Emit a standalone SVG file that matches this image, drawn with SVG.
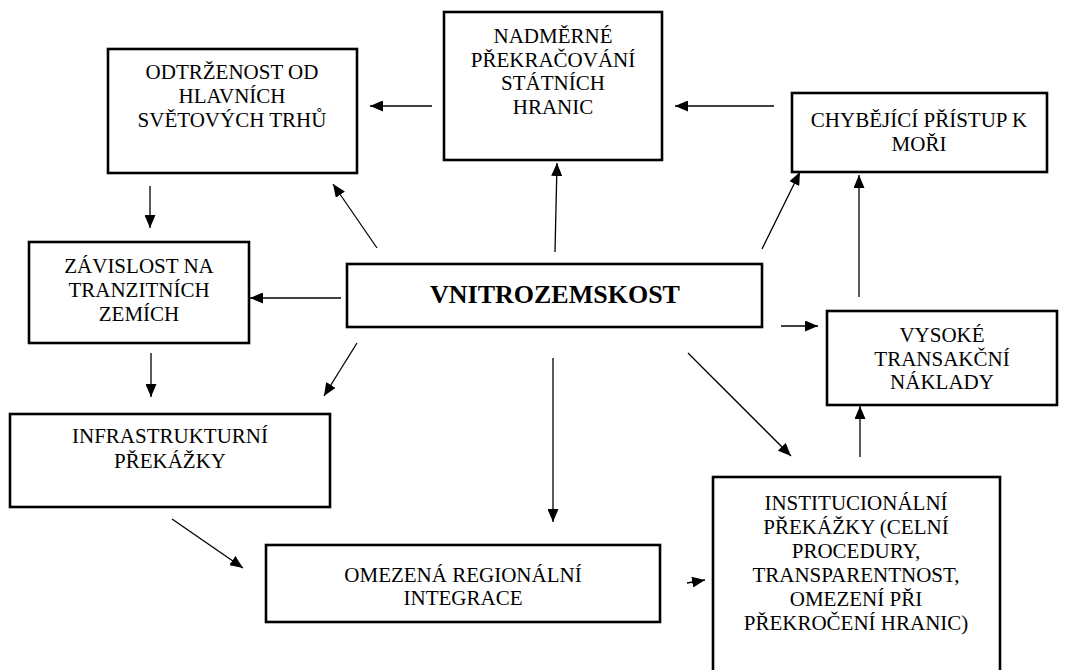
<svg xmlns="http://www.w3.org/2000/svg" width="1074" height="670" viewBox="0 0 1074 670">
<defs>
<marker id="ah" viewBox="0 0 13 11" refX="13" refY="5.5" markerWidth="13" markerHeight="11" markerUnits="userSpaceOnUse" orient="auto">
<path d="M0,0 L13,5.5 L0,11 z" fill="#000"/>
</marker>
<style>
.box{fill:#fff;stroke:#000;stroke-width:2.6}
.t{font-family:"Liberation Serif","Times New Roman",serif;font-size:21px;fill:#000;text-anchor:middle}
.b{font-weight:bold;font-size:26px}
.c{stroke:#000;stroke-width:1.3;fill:none;marker-end:url(#ah)}
</style>
</defs>
<rect width="1074" height="670" fill="#fff"/>
<g id="connectors">
<line class="c" x1="432" y1="106" x2="370" y2="106"/>
<line class="c" x1="774" y1="106" x2="675" y2="106"/>
<line class="c" x1="555" y1="252" x2="557" y2="163"/>
<line class="c" x1="377" y1="248" x2="333" y2="184"/>
<line class="c" x1="762" y1="249" x2="800" y2="172"/>
<line class="c" x1="859" y1="297" x2="859" y2="175"/>
<line class="c" x1="150" y1="186" x2="150" y2="228"/>
<line class="c" x1="341" y1="298" x2="250" y2="298"/>
<line class="c" x1="151" y1="353" x2="151" y2="397"/>
<line class="c" x1="357" y1="343" x2="324" y2="396"/>
<line class="c" x1="781" y1="326" x2="818" y2="326"/>
<line class="c" x1="688" y1="353" x2="791" y2="456"/>
<line class="c" x1="860" y1="457" x2="860" y2="406"/>
<line class="c" x1="553" y1="358" x2="553" y2="522"/>
<line class="c" x1="172" y1="519" x2="243" y2="568"/>
<line class="c" x1="687" y1="583" x2="705" y2="580"/>
</g>
<g id="odtrzenost">
<rect class="box" x="108" y="49" width="249" height="124"/>
<text class="t" x="232" y="79">ODTRŽENOST OD</text>
<text class="t" x="232" y="103">HLAVNÍCH</text>
<text class="t" x="232" y="127">SVĚTOVÝCH TRHŮ</text>
</g>
<g id="nadmerne">
<rect class="box" x="444" y="12" width="218" height="148"/>
<text class="t" x="553" y="43">NADMĚRNÉ</text>
<text class="t" x="553" y="67">PŘEKRAČOVÁNÍ</text>
<text class="t" x="553" y="90">STÁTNÍCH</text>
<text class="t" x="553" y="114">HRANIC</text>
</g>
<g id="chybejici">
<rect class="box" x="792" y="93" width="255" height="79"/>
<text class="t" x="919" y="127">CHYBĚJÍCÍ PŘÍSTUP K</text>
<text class="t" x="919" y="151">MOŘI</text>
</g>
<g id="zavislost">
<rect class="box" x="29" y="242" width="220" height="101"/>
<text class="t" x="139" y="273">ZÁVISLOST NA</text>
<text class="t" x="139" y="297">TRANZITNÍCH</text>
<text class="t" x="139" y="321">ZEMÍCH</text>
</g>
<g id="vnitrozemskost">
<rect class="box" x="347" y="264" width="415" height="63"/>
<text class="t b" x="555" y="303">VNITROZEMSKOST</text>
</g>
<g id="vysoke">
<rect class="box" x="827" y="311" width="230" height="94"/>
<text class="t" x="942" y="342">VYSOKÉ</text>
<text class="t" x="942" y="366">TRANSAKČNÍ</text>
<text class="t" x="942" y="389">NÁKLADY</text>
</g>
<g id="infrastrukturni">
<rect class="box" x="10" y="414" width="320" height="93"/>
<text class="t" x="170" y="443">INFRASTRUKTURNÍ</text>
<text class="t" x="170" y="468">PŘEKÁŽKY</text>
</g>
<g id="omezena">
<rect class="box" x="266" y="545" width="394" height="77"/>
<text class="t" x="463" y="582">OMEZENÁ REGIONÁLNÍ</text>
<text class="t" x="463" y="605">INTEGRACE</text>
</g>
<g id="institucionalni">
<rect class="box" x="713" y="477" width="287" height="210"/>
<text class="t" x="856" y="510">INSTITUCIONÁLNÍ</text>
<text class="t" x="856" y="534">PŘEKÁŽKY (CELNÍ</text>
<text class="t" x="856" y="558">PROCEDURY,</text>
<text class="t" x="856" y="582">TRANSPARENTNOST,</text>
<text class="t" x="856" y="606">OMEZENÍ PŘI</text>
<text class="t" x="856" y="630">PŘEKROČENÍ HRANIC)</text>
</g>
</svg>
